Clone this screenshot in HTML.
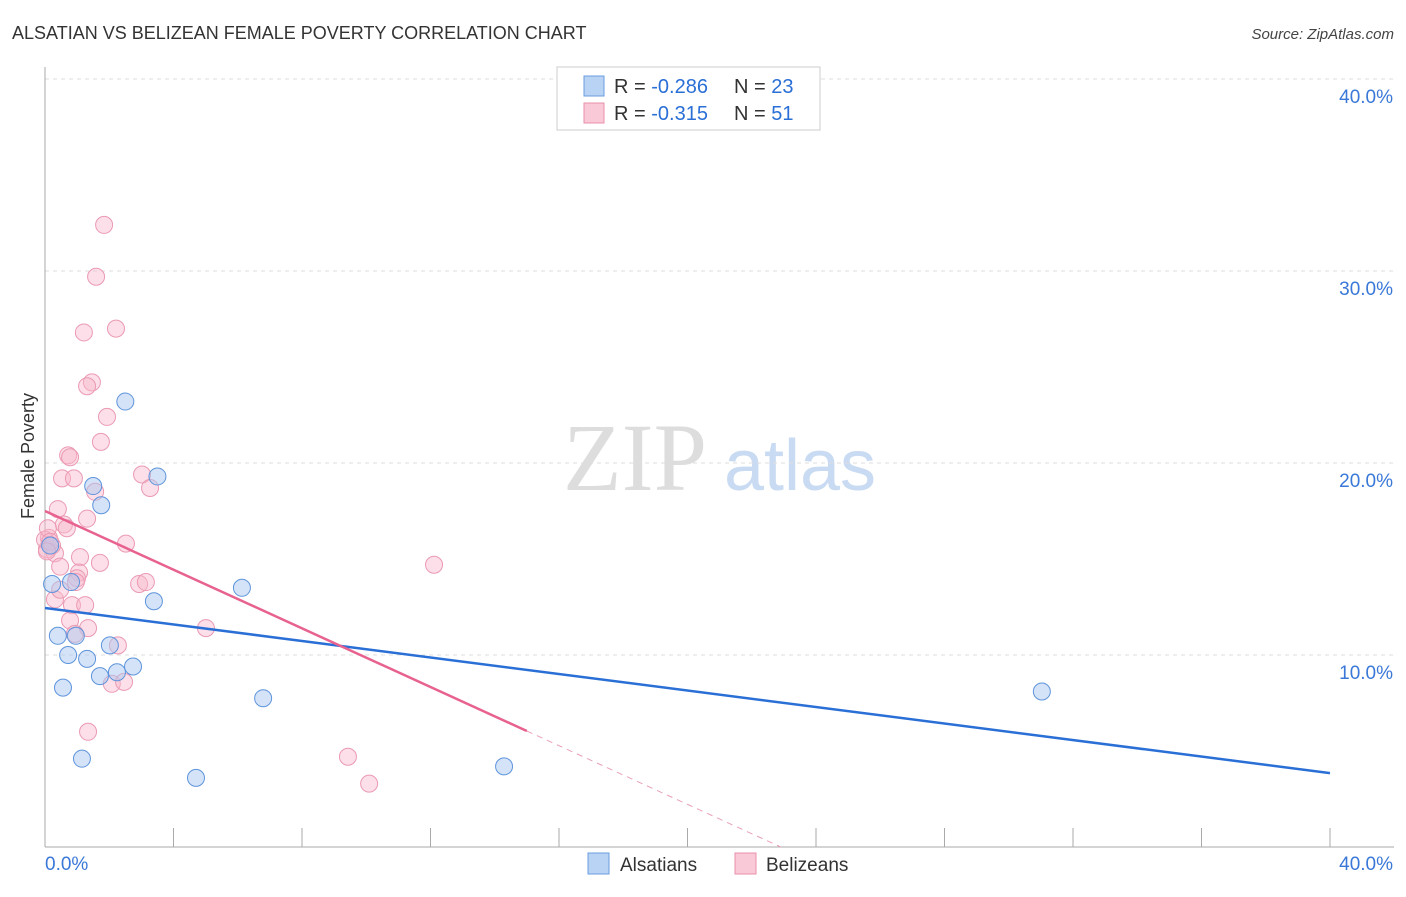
<!DOCTYPE html>
<html><head><meta charset="utf-8"><style>
body{margin:0;background:#fff;font-family:"Liberation Sans",sans-serif}
</style></head><body>
<svg id="c" width="1406" height="892" xmlns="http://www.w3.org/2000/svg">
<text x="12" y="39" font-size="18" fill="#333">ALSATIAN VS BELIZEAN FEMALE POVERTY CORRELATION CHART</text>
<text x="1394" y="39" font-size="15" fill="#444" font-style="italic" text-anchor="end">Source: ZipAtlas.com</text>
<text x="635" y="490" font-size="96" fill="#ddd" font-family="Liberation Serif" text-anchor="middle">ZIP</text>
<text x="800" y="490" font-size="72" fill="#c9dbf2" text-anchor="middle">atlas</text>
<text x="34" y="456" font-size="18" fill="#333" text-anchor="middle" transform="rotate(-90 34 456)">Female Poverty</text>
<g id="grid"></g><g id="axes"></g><g id="pts"></g><g id="lines"></g>
<g>
<rect x="557" y="67" width="263" height="63" fill="#fff" stroke="#ccc"/>
<rect x="584" y="76" width="20" height="20" fill="#b9d3f5" stroke="#6a9ee0"/>
<rect x="584" y="103" width="20" height="20" fill="#f9c9d7" stroke="#ea8fab"/>
<text x="614" y="93" font-size="20" fill="#333">R = <tspan fill="#2a6fd6">-0.286</tspan></text>
<text x="734" y="93" font-size="20" fill="#333">N = <tspan fill="#2a6fd6">23</tspan></text>
<text x="614" y="120" font-size="20" fill="#333">R =  <tspan fill="#2a6fd6">-0.315</tspan></text>
<text x="734" y="120" font-size="20" fill="#333">N =  <tspan fill="#2a6fd6">51</tspan></text>
</g>
<g>
<rect x="588" y="853" width="21" height="21" fill="#b9d3f5" stroke="#6a9ee0"/>
<text x="620" y="871" font-size="19" fill="#333">Alsatians</text>
<rect x="735" y="853" width="21" height="21" fill="#f9c9d7" stroke="#ea8fab"/>
<text x="766" y="871" font-size="19" fill="#333">Belizeans</text>
</g>
</svg>
<script>
const xTicks=[0,40];
const yTicks=[10,20,30,40];
const alsX=[2.5,3.5,1.5,1.75,0.22,0.81,6.13,3.39,0.4,0.96,0.72,2.02,1.31,1.71,2.24,2.74,0.56,6.79,1.15,4.7,14.29,31.03,0.16];
const alsY=[23.2,19.3,18.8,17.8,13.7,13.8,13.5,12.8,11.0,11.0,10.0,10.5,9.8,8.9,9.1,9.4,8.3,7.75,4.6,3.6,4.2,8.1,15.7];
const belX=[1.84,1.59,1.21,2.21,1.46,1.31,1.93,1.74,0.72,0.78,0.53,0.9,3.02,3.27,1.56,0.4,1.31,0.59,0.68,2.52,0.12,0.06,0.31,1.09,0.47,1.71,1.06,0.996,0.96,2.93,3.14,12.11,0.31,0.84,1.25,0.78,1.34,0.93,5.01,2.27,2.08,2.46,1.34,9.43,10.09,0.0,0.22,0.09,0.16,0.06,0.47];
const belY=[32.4,29.7,26.8,27.0,24.2,24.0,22.4,21.1,20.4,20.3,19.2,19.2,19.4,18.7,18.5,17.6,17.1,16.8,16.6,15.8,16.1,15.5,15.3,15.1,14.6,14.8,14.3,14.0,13.8,13.7,13.8,14.7,12.9,12.6,12.6,11.8,11.4,11.1,11.4,10.5,8.5,8.6,6.0,4.7,3.3,16.0,15.7,16.6,15.9,15.4,13.4];
const blueLine=[12.45,3.85];
const pinkLine=[17.5,6.04];
const pinkEnd=15;
const X=v=>45+v*32.125, Y=v=>847-v*19.2;
const ns="http://www.w3.org/2000/svg";
function mk(t,a,p){const e=document.createElementNS(ns,t);for(const k in a)e.setAttribute(k,a[k]);document.getElementById(p).appendChild(e);return e;}
yTicks.forEach(t=>{const l=mk('line',{x1:45,x2:1394,y1:Y(t),y2:Y(t),stroke:'#ddd','stroke-dasharray':'4,4'},'grid');


const tx=mk('text',{x:1393,y:Y(t)+24,'font-size':19,fill:'#3a78d8','text-anchor':'end'},'grid');tx.textContent=t.toFixed(1)+'%';

});
mk('line',{x1:45,x2:45,y1:67,y2:847,stroke:'#aaa'},'axes');
mk('line',{x1:45,x2:1394,y1:847,y2:847,stroke:'#aaa'},'axes');
for(let i=1;i<=10;i++){mk('line',{x1:X(i*4)+ (i==10?0:0),x2:X(i*4),y1:828,y2:847,stroke:'#aaa'},'axes');}
xTicks.forEach((t,i)=>{const tx=mk('text',{x:i?1393:45,y:870,'font-size':19,fill:'#3a78d8','text-anchor':i?'end':'start'},'axes');tx.textContent=t.toFixed(1)+'%';

});
belX.forEach((v,i)=>{const c=mk('circle',{cx:X(v),cy:Y(belY[i]),r:8.5,fill:'rgba(248,185,205,0.45)',stroke:'#eb9ab3','stroke-width':1},'pts');

});
alsX.forEach((v,i)=>{const c=mk('circle',{cx:X(v),cy:Y(alsY[i]),r:8.5,fill:'rgba(170,200,240,0.5)',stroke:'#5e94dc','stroke-width':1},'pts');

});
const bl=mk('line',{x1:X(0),y1:Y(blueLine[0]),x2:X(40),y2:Y(blueLine[1]),stroke:'#2a6fd6','stroke-width':2.5},'lines');


const slope=(pinkLine[1]-pinkLine[0])/pinkEnd;
const pl=mk('line',{x1:X(0),y1:Y(pinkLine[0]),x2:X(pinkEnd),y2:Y(pinkLine[1]),stroke:'#e8628f','stroke-width':2.5},'lines');


const xz=-pinkLine[0]/slope;
const pd=mk('line',{x1:X(pinkEnd),y1:Y(pinkLine[1]),x2:X(xz),y2:Y(0),stroke:'#e8a0b8','stroke-width':1,'stroke-dasharray':'6,5'},'lines');


</script>
</body></html>
